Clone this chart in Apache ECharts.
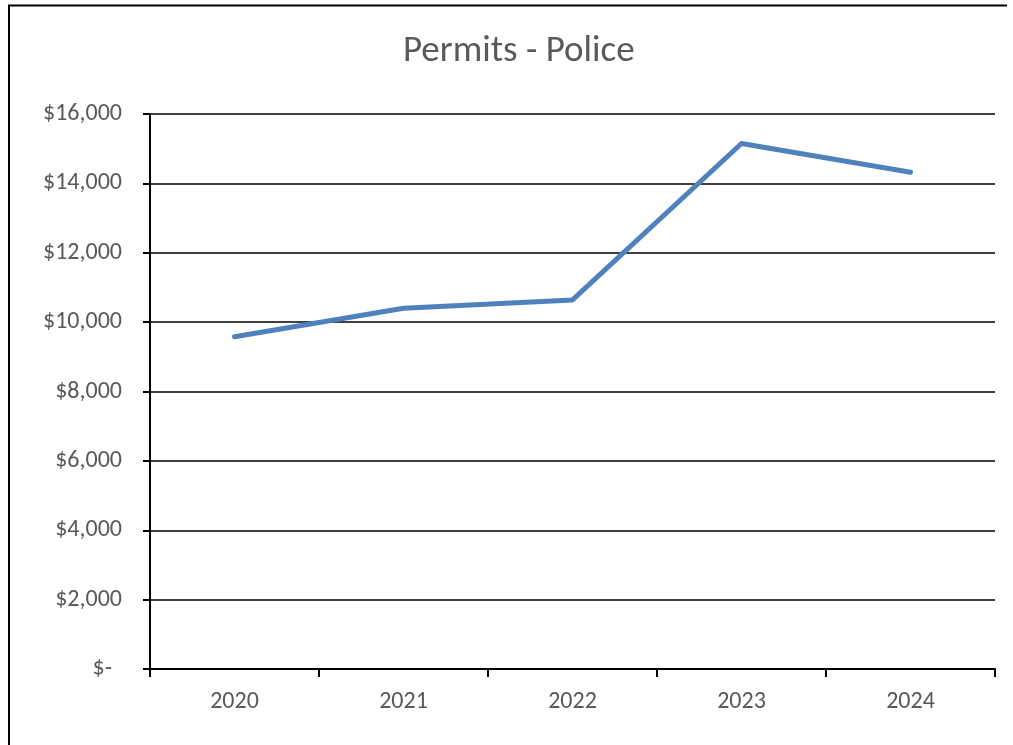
<!DOCTYPE html>
<html>
<head>
<meta charset="utf-8">
<style>html,body{margin:0;padding:0;background:#fff;}#c{width:1013px;height:745px;}</style>
<script src="https://cdn.jsdelivr.net/npm/echarts@6/dist/echarts.min.js"></script>
</head>
<body>
<div id="c"></div>
<script>
const categories = ['2020', '2021', '2022', '2023', '2024'];
const permitValues = [9580, 10400, 10640, 15150, 14320];
const yTicks = { min: 0, max: 16000, interval: 2000 };

const FONT = 'Carlito, Lato, "Liberation Sans", sans-serif';
const chart = echarts.init(document.getElementById('c'), null, { renderer: 'canvas' });
chart.setOption({
  animation: false,
  backgroundColor: '#fff',
  title: {
    text: 'Permits - Police',
    left: 398,
    top: 28,
    textStyle: { fontFamily: FONT, fontSize: 37, fontWeight: 'normal', color: '#595959' }
  },
  grid: { left: 150, right: 18, top: 114, bottom: 76, containLabel: false },
  xAxis: {
    type: 'category',
    data: categories,
    boundaryGap: true,
    axisLine: { lineStyle: { color: '#000', width: 2 } },
    axisTick: { show: true, interval: 0, length: 8, lineStyle: { color: '#000', width: 2 } },
    axisLabel: { fontFamily: FONT, fontSize: 24, color: '#595959', margin: 21 }
  },
  yAxis: {
    type: 'value',
    min: yTicks.min, max: yTicks.max, interval: yTicks.interval,
    axisLine: { show: true, lineStyle: { color: '#000', width: 2 } },
    axisTick: { show: true, length: 7, lineStyle: { color: '#000', width: 2 } },
    splitLine: { show: true, lineStyle: { color: '#000', width: 1.5 } },
    axisLabel: {
      fontFamily: FONT, fontSize: 24, color: '#595959', margin: 28,
      formatter: function (v) {
        if (v === 0) return '{z|$-}';
        return '$' + v.toLocaleString('en-US');
      },
      rich: { z: { fontFamily: FONT, fontSize: 24, color: '#595959', padding: [0, 10, 0, 0] } }
    }
  },
  series: [{
    type: 'line',
    data: permitValues,
    symbol: 'none',
    lineStyle: { color: '#4F81BD', width: 5, cap: 'round', join: 'round' },
    itemStyle: { color: '#4F81BD' }
  }],
  graphic: [{
    type: 'polyline',
    shape: { points: [[9, 760], [9, 5.5], [1007, 5.5]] },
    style: { stroke: '#000', lineWidth: 2, fill: null },
    silent: true
  }]
});
</script>
</body>
</html>
